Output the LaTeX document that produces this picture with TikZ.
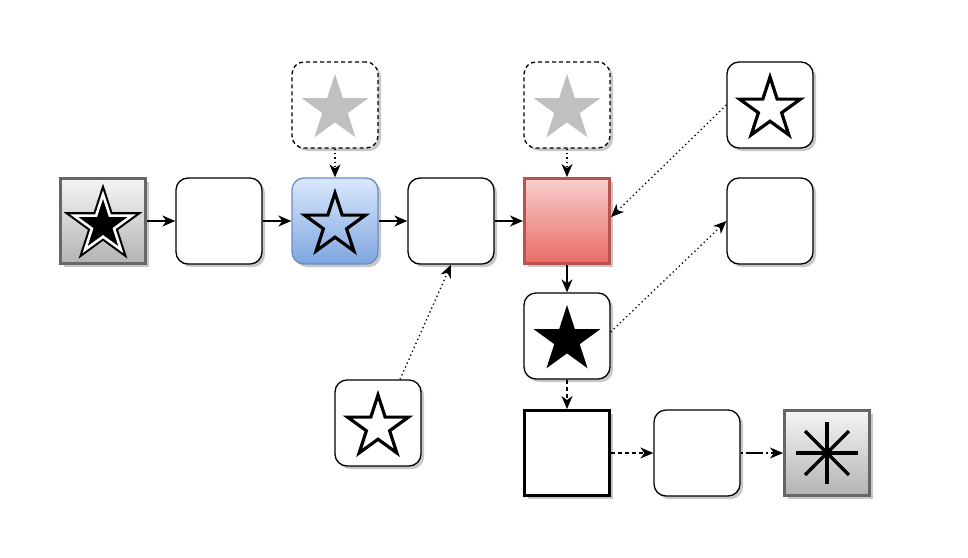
\documentclass[tikz,border=0pt]{standalone}
\usetikzlibrary{shapes.geometric,arrows.meta,shadows}

\definecolor{blueline}{HTML}{6C8EBF}
\definecolor{bluetop}{HTML}{DAE8FC}
\definecolor{bluebot}{HTML}{7EA6E0}
\definecolor{redline}{HTML}{B85450}
\definecolor{redtop}{HTML}{F8CECC}
\definecolor{redbot}{HTML}{EA6B66}
\definecolor{grayline}{HTML}{666666}
\definecolor{graytop}{HTML}{F5F5F5}
\definecolor{graybot}{HTML}{B3B3B3}
\definecolor{ghoststar}{HTML}{C0C0C0}

\begin{document}
\begin{tikzpicture}[
    x=1pt, y=-1pt,
    shade/.style={drop shadow={shadow xshift=3pt, shadow yshift=-3pt, fill=black, opacity=0.22}},
    box/.style={draw=black, fill=white, rounded corners=12pt, line width=1.3pt, minimum size=86pt, inner sep=0pt, shade},
    ghostbox/.style={box, dash pattern=on 4pt off 3pt},
    sqbox/.style={draw=black, fill=white, line width=3pt, minimum size=85pt, inner sep=0pt, shade},
    graybox/.style={draw=grayline, top color=graytop, bottom color=graybot, line width=3pt, minimum size=85pt, inner sep=0pt, shade},
    bluebox/.style={box, draw=blueline, top color=bluetop, bottom color=bluebot},
    redbox/.style={draw=redline, top color=redtop, bottom color=redbot, line width=3pt, minimum size=85pt, inner sep=0pt, shade},
    starshape/.style={star, star points=5, star point ratio=2.618, inner sep=0pt, minimum size=#1},
    hollowstar/.style={starshape=64pt, draw=black, line width=3.2pt},
    solidstar/.style={starshape=70pt, fill=black},
    ghost/.style={starshape=70pt, fill=ghoststar},
    doublestar/.style={starshape=61pt, draw=black, fill=black, line width=2.1pt, double=white, double distance=2.6pt},
    flow/.style={line width=1.3pt, -{Stealth[length=13pt, width=11pt, inset=4pt]}},
    hint/.style={flow, dash pattern=on 1.3pt off 3pt},
    weak/.style={flow, dash pattern=on 4pt off 3pt},
    weaker/.style={flow, dash pattern=on 2pt off 3pt on 17pt off 3pt},
    spoke/.style={line width=3.3pt, draw=black}
]

    \useasboundingbox[fill=white] (0,0) rectangle (968,557);

    % Main row
    \node[graybox] (src) at (103,221) {};
    \node[box]     (a1)  at (219,221) {};
    \node[bluebox] (a2)  at (335,221) {};
    \node[box]     (a3)  at (451,221) {};
    \node[redbox]  (hub) at (567,221) {};
    \node[box]     (out) at (770,221) {};

    % Boxes above
    \node[ghostbox] (g1)  at (335,105) {};
    \node[ghostbox] (g2)  at (567,105) {};
    \node[box]      (top) at (770,105) {};

    % Boxes below
    \node[box]    (mid)  at (567,336) {};
    \node[box]    (left) at (378,423) {};
    \node[sqbox]  (sq)   at (567,453) {};
    \node[box]    (b2)   at (697,453) {};
    \node[graybox] (sink) at (827,453) {};

    % Stars
    \node[doublestar] (srcstar)  at (103,225) {};
    \node[hollowstar] (a2star)   at (335,225) {};
    \node[ghost]      (g1star)   at (335,109) {};
    \node[ghost]      (g2star)   at (567,109) {};
    \node[hollowstar] (topstar)  at (770,109) {};
    \node[solidstar]  (midstar)  at (567,340) {};
    \node[hollowstar] (leftstar) at (378,427) {};

    % Asterisk
    \foreach \a in {0,45,...,315} {
        \draw[spoke] (sink.center) -- ++(\a:31);
    }

    % Solid flow
    \draw[flow] (src.east) -- (a1.west);
    \draw[flow] (a1.east) -- (a2.west);
    \draw[flow] (a2.east) -- (a3.west);
    \draw[flow] (a3.east) -- (hub.west);
    \draw[flow] (hub.south) -- (mid.north);

    % Dashed flow
    \draw[weak] (mid.south) -- (sq.north);
    \draw[weak] (sq.east) -- (b2.west);
    \draw[weaker] (b2.east) -- (sink.west);

    % Dotted hints
    \draw[hint] (g1.south) -- (a2.north);
    \draw[hint] (g2.south) -- (hub.north);
    \draw[hint] (top.west) -- ([yshift=4pt]hub.east);
    \draw[hint] ([yshift=4pt]mid.east) -- (out.west);
    \draw[hint] ([xshift=22pt]left.north) -- (a3.south);

\end{tikzpicture}
\end{document}
